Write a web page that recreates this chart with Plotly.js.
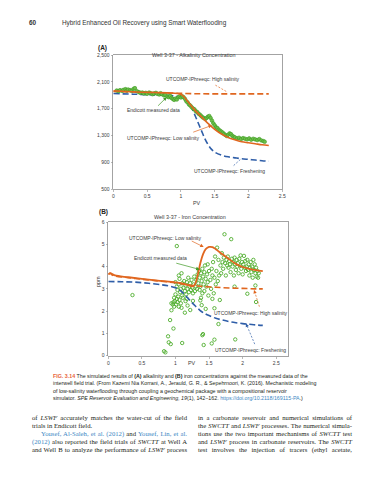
<!DOCTYPE html>
<html><head><meta charset="utf-8">
<script src="https://cdn.plot.ly/plotly-3.0.1.min.js"></script>
<style>
html,body{margin:0;padding:0;background:#fff;width:389px;height:480px;overflow:hidden;}
#chart{position:absolute;left:0;top:0;width:389px;height:480px;}
.t{position:absolute;z-index:2;color:#231f20;white-space:nowrap;}
.hdr{font-family:'Liberation Sans',Arial,sans-serif;font-size:6.4px;color:#333;}
.cap{left:53px;top:373px;font-family:'Liberation Sans',Arial,sans-serif;font-size:5.3px;line-height:7.3px;color:#231f20;}
.col{position:absolute;z-index:2;font-family:'Liberation Serif','Times New Roman',serif;font-size:6.7px;line-height:8px;color:#231f20;}
.col div{text-align:justify;text-align-last:justify;white-space:nowrap;}
.col div.l{text-align-last:left;}
.lnk{color:#3d87c4;}
</style></head><body>
<div id="chart"></div>
<div class="t hdr" style="left:29px;top:19px;font-weight:bold;">60</div>
<div class="t hdr" style="left:62px;top:19px;">Hybrid Enhanced Oil Recovery using Smart Waterflooding</div>
<div class="t cap"><span style="color:#e8643c;font-weight:bold;">FIG. 3.14</span> The simulated results of <b>(A)</b> alkalinity and <b>(B)</b> iron concentrations against the measured data of the<br>interwell field trial. (From Kazemi Nia Korrani, A., Jerauld, G. R., &amp; Sepehrnoori, K. (2016). Mechanistic modeling<br>of low-salinity waterflooding through coupling a geochemical package with a compositional reservoir<br>simulator. <i>SPE Reservoir Evaluation and Engineering, 19</i>(1), 142−162. <span class="lnk">https://doi.org/10.2118/169115-PA</span>.)</div>
<div class="col" style="left:32px;top:414px;width:155px;">
<div>of <i>LSWF</i> accurately matches the water-cut of the field</div>
<div class="l">trials in Endicott field.</div>
<div style="padding-left:9px;"><span class="lnk">Yousef, Al-Saleh, et al. (2012)</span> and <span class="lnk">Yousef, Lin, et al.</span></div>
<div><span class="lnk">(2012)</span> also reported the field trials of <i>SWCTT</i> at Well A</div>
<div>and Well B to analyze the performance of <i>LSWF</i> process</div>
</div>
<div class="col" style="left:198px;top:414px;width:154px;">
<div>in a carbonate reservoir and numerical simulations of</div>
<div>the <i>SWCTT</i> and <i>LSWF</i> processes. The numerical simula-</div>
<div>tions use the two important mechanisms of <i>SWCTT</i> test</div>
<div>and <i>LSWF</i> process in carbonate reservoirs. The <i>SWCTT</i></div>
<div>test involves the injection of tracers (ethyl acetate,</div>
</div>
<script>
// ---------- (A) Alkalinity ----------
const alkHighPV  = [0, 0.3, 0.6, 0.9, 1.2, 1.5, 1.8, 2.1, 2.3];
const alkHigh    = [1955, 1945, 1935, 1925, 1922, 1920, 1920, 1920, 1920];
const alkLowPV   = [0, 0.2, 0.4, 0.6, 0.8, 0.95, 1.02, 1.1, 1.2, 1.3, 1.4, 1.5, 1.6, 1.7, 1.8, 1.9, 2.0, 2.1, 2.2, 2.3];
const alkLow     = [1965, 1955, 1945, 1940, 1935, 1925, 1900, 1810, 1685, 1580, 1480, 1390, 1320, 1270, 1235, 1205, 1190, 1175, 1160, 1150];
const alkFreshPV = [0, 0.3, 0.6, 0.9, 1.0, 1.05, 1.1, 1.15, 1.2, 1.25, 1.3, 1.35, 1.4, 1.45, 1.5, 1.6, 1.7, 1.8, 1.9, 2.0, 2.1, 2.2, 2.3];
const alkFresh   = [1925, 1915, 1905, 1890, 1870, 1850, 1810, 1740, 1620, 1500, 1380, 1260, 1165, 1095, 1050, 1005, 980, 965, 952, 942, 932, 922, 914];
const alkMeasPV  = [0.05,0.08,0.1,0.13,0.15,0.18,0.2,0.22,0.25,0.27,0.3,0.32,0.35,0.38,0.4,0.43,0.45,0.48,0.5,0.53,0.55,0.58,0.6,0.63,0.65,0.68,0.7,0.72,0.75,0.77,0.8,0.82,0.84,0.86,0.88,0.9,0.92,0.94,0.96,0.98,1.0,1.02,1.04,1.06,1.08,1.1,1.12,1.14,1.16,1.18,1.2,1.22,1.24,1.26,1.28,1.3,1.32,1.34,1.36,1.38,1.4,1.42,1.44,1.46,1.48,1.5,1.52,1.54,1.56,1.58,1.6,1.62,1.64,1.66,1.68,1.7,1.72,1.74,1.76,1.78,1.8,1.83,1.86,1.89,1.92,1.95,1.98,2.01,2.04,2.07,2.1,2.13,2.16,2.19,2.22,2.24];
const alkMeas    = [1970,1960,1975,1965,1980,1990,1970,1985,1975,1965,1995,2005,1960,1945,1935,1940,1925,1935,1920,1940,1930,1915,1925,1935,1920,1910,1930,1915,1895,1905,1880,1870,1890,1860,1845,1830,1850,1835,1870,1880,1865,1885,1870,1845,1810,1790,1760,1745,1720,1700,1690,1660,1650,1625,1610,1590,1570,1560,1545,1560,1580,1590,1560,1520,1480,1450,1420,1410,1385,1370,1355,1340,1320,1305,1290,1310,1330,1320,1295,1280,1270,1255,1265,1245,1260,1250,1240,1255,1235,1250,1240,1230,1245,1225,1215,1205];

// ---------- (B) Iron ----------
const feLowPV   = [0, 0.03, 0.06, 0.1, 0.3, 0.5, 0.7, 0.9, 1.0, 1.1, 1.2, 1.25, 1.29, 1.33, 1.37, 1.41, 1.45, 1.5, 1.55, 1.6, 1.7, 1.8, 1.9, 2.0, 2.1, 2.2, 2.3];
const feLow     = [3.65, 3.7, 3.66, 3.6, 3.52, 3.45, 3.38, 3.32, 3.29, 3.24, 3.16, 3.11, 3.2, 3.6, 4.15, 4.55, 4.78, 4.88, 4.87, 4.78, 4.55, 4.33, 4.12, 3.98, 3.9, 3.84, 3.8];
const feHighPV  = [0, 0.03, 0.06, 0.1, 0.3, 0.5, 0.7, 0.9, 1.0, 1.1, 1.2, 1.3, 1.4, 1.6, 1.8, 2.0, 2.2, 2.3];
const feHigh    = [3.65, 3.7, 3.62, 3.58, 3.5, 3.43, 3.37, 3.31, 3.27, 3.22, 3.17, 3.14, 3.11, 3.07, 3.04, 3.02, 3.0, 3.0];
const feFreshPV = [0, 0.2, 0.4, 0.6, 0.8, 0.9, 1.0, 1.06, 1.12, 1.18, 1.24, 1.3, 1.36, 1.42, 1.5, 1.6, 1.7, 1.8, 1.9, 2.0, 2.1, 2.2, 2.3];
const feFresh   = [3.33, 3.32, 3.3, 3.25, 3.18, 3.13, 3.05, 2.95, 2.8, 2.6, 2.4, 2.22, 2.05, 1.92, 1.8, 1.68, 1.6, 1.53, 1.48, 1.44, 1.41, 1.38, 1.36];
const feMeasPV  = [1.0,1.02,1.03,1.05,1.06,1.07,1.08,1.1,1.1,1.12,1.13,1.14,1.15,1.16,1.17,1.18,1.19,1.2,1.21,1.22,1.23,1.24,1.25,1.26,1.27,1.28,1.29,1.3,0.98,0.99,1.0,1.01,1.02,1.03,1.04,1.05,0.97,0.96,1.06,1.08,0.94,0.98,1.09,1.11,1.15,1.17,1.18,1.22,1.14,1.26,1.05,1.09,
 1.31,1.32,1.33,1.34,1.35,1.36,1.36,1.37,1.38,1.38,1.39,1.4,1.4,1.41,1.42,1.43,1.43,1.44,1.45,1.46,1.47,1.48,1.48,1.49,1.5,1.37,1.39,1.45,
 1.52,1.53,1.54,1.55,1.56,1.57,1.58,1.59,1.6,1.61,1.62,1.63,1.64,1.65,1.66,1.67,1.68,1.69,1.7,1.71,1.72,1.73,1.74,1.75,
 1.76,1.77,1.78,1.79,1.8,1.81,1.82,1.83,1.84,1.85,1.86,1.87,1.88,1.89,1.9,1.91,1.92,1.93,1.94,1.95,1.96,1.97,1.98,1.99,2.0,2.01,2.02,2.03,2.04,2.05,2.06,2.07,2.08,2.09,2.1,2.11,2.12,2.13,2.14,2.15,2.16,2.17,2.18,2.19,2.2,2.21,2.22,2.23,2.24,1.88,2.19,2.07,2.2,
 0.36,0.94,0.92,0.97,0.89,0.9,0.93,0.83,0.85,1.1,1.41,1.4,1.42,1.54,1.58,1.64,1.89,1.02,1.58,1.55];
const feMeas    = [3.3,3.1,2.95,3.2,3.45,2.85,3.0,3.25,2.7,3.05,3.35,2.9,3.15,2.75,3.3,3.0,3.5,2.85,3.1,3.25,2.95,3.4,3.05,2.8,3.2,3.55,2.9,3.1,2.6,2.45,2.75,2.3,2.55,2.4,2.65,2.2,2.4,2.3,2.5,2.35,2.35,2.2,2.15,2.6,2.45,2.55,2.25,2.05,1.93,2.46,3.6,3.7,
 3.4,3.0,3.65,3.25,3.8,2.95,3.5,3.1,3.7,2.6,3.35,3.9,2.8,3.55,3.2,3.75,2.9,4.05,3.45,3.1,3.65,3.3,4.1,2.7,3.8,2.48,2.27,2.1,
 3.4,3.0,3.9,3.6,4.2,2.8,3.5,4.45,3.2,3.8,4.85,3.35,4.3,3.6,2.5,4.05,3.7,4.6,4.2,3.9,4.4,5.45,4.15,3.6,
 4.3,4.05,4.45,3.95,4.25,4.1,3.75,5.23,4.35,4.0,4.2,3.6,4.4,4.1,3.85,4.3,4.0,4.15,3.7,4.35,4.05,4.5,3.9,4.2,3.65,4.1,4.48,3.95,4.25,3.8,4.0,4.3,3.85,4.1,3.6,3.95,4.2,3.75,4.0,3.5,4.3,3.85,4.1,3.7,3.95,3.55,3.8,3.5,3.7,3.1,3.15,2.78,2.41,
 2.72,2.04,1.6,1.22,0.87,0.6,0.52,0.2,0.15,0.57,0.97,0.92,0.48,0.55,0.72,1.42,0.73,4.92,2.13,2.55];

const ORANGE = '#e0661f', BLUE = '#2f5ea8', GREEN = '#4fae2e';
const FONT = 'Liberation Sans, Arial, sans-serif';
const TXT = '#3a3a3a';
const W = 389, H = 480;
const px = v => v / W, py = v => 1 - v / H;

const traces = [
  {x: alkHighPV, y: alkHigh, xaxis:'x', yaxis:'y', mode:'lines', line:{color:ORANGE, width:1.6, dash:'6px,3px'}},
  {x: alkFreshPV, y: alkFresh, xaxis:'x', yaxis:'y', mode:'lines', line:{color:BLUE, width:1.6, dash:'6px,3px', shape:'spline'}},
  {x: alkMeasPV, y: alkMeas, xaxis:'x', yaxis:'y', mode:'markers', marker:{color:'#6cc04a', size:3.6, line:{color:'#3e9a24', width:0.6}}},
  {x: alkLowPV, y: alkLow, xaxis:'x', yaxis:'y', mode:'lines', line:{color:ORANGE, width:1.6, shape:'spline'}},
  {x: feMeasPV, y: feMeas, xaxis:'x2', yaxis:'y2', mode:'markers', marker:{symbol:'circle-open', color:GREEN, size:3.4, line:{color:GREEN, width:0.9}}},
  {x: feHighPV, y: feHigh, xaxis:'x2', yaxis:'y2', mode:'lines', line:{color:ORANGE, width:1.6, dash:'6px,3px', shape:'spline'}},
  {x: feFreshPV, y: feFresh, xaxis:'x2', yaxis:'y2', mode:'lines', line:{color:BLUE, width:1.6, dash:'6px,3px', shape:'spline'}},
  {x: feLowPV, y: feLow, xaxis:'x2', yaxis:'y2', mode:'lines', line:{color:ORANGE, width:1.8, shape:'spline'}}
];

const ax = {showline:true, mirror:true, linecolor:'#8c8c8c', linewidth:0.8, ticks:'outside', ticklen:2, tickwidth:0.6,
            tickcolor:'#8c8c8c', showgrid:false, zeroline:false, tickfont:{size:5, color:TXT, family:FONT}, fixedrange:true};

function lab(text, x, y, xr, yr, extra) {
  return Object.assign({text, x, y, xref:xr, yref:yr, showarrow:false, font:{size:5, color:TXT, family:FONT}}, extra || {});
}
// solid arrow from (x0,y0) to head (x1,y1)
function arr(x0, y0, x1, y1, xr, yr, color) {
  return {text:'', x:x1, y:y1, ax:x0, ay:y0, xref:xr, yref:yr, axref:xr, ayref:yr, showarrow:true,
          arrowhead:2, arrowsize:1, arrowwidth:0.7, arrowcolor:color};
}
// dashed arrow: dashed shaft as a shape + short arrow for the head
const shapes = [];
function darr(x0, y0, x1, y1, xr, yr, color) {
  shapes.push({type:'line', x0, y0, x1, y1, xref:xr, yref:yr, line:{color, width:0.7, dash:'2px,1.5px'}});
  const f = 0.82;
  return arr(x0 + (x1 - x0) * f, y0 + (y1 - y0) * f, x1, y1, xr, yr, color);
}

const annotations = [
  lab('<b>(A)</b>', px(96), py(42.5), 'paper', 'paper', {font:{size:6.5, color:'#222', family:FONT}}),
  lab('Well 3-37 - Alkalinity Concentration', px(194), py(49.5), 'paper', 'paper', {font:{size:5.4, color:TXT, family:FONT}}),
  lab('PV', px(197), py(202.5), 'paper', 'paper', {font:{size:5.4, color:TXT, family:FONT}}),
  lab('UTCOMP-IPhreeqc: High salinity', 1.33, 2140, 'x', 'y'),
  darr(1.51, 2050, 1.69, 1945, 'x', 'y', ORANGE),
  lab('Endicott measured data', 0.59, 1675, 'x', 'y'),
  arr(0.64, 1720, 0.79, 1870, 'x', 'y', '#3e9a24'),
  lab('UTCOMP-IPhreeqc: Low salinity', 0.74, 1255, 'x', 'y'),
  arr(1.16, 1340, 1.46, 1450, 'x', 'y', ORANGE),
  lab('UTCOMP-IPhreeqc: Freshening', 1.72, 775, 'x', 'y'),
  darr(1.78, 850, 1.89, 950, 'x', 'y', BLUE),

  lab('<b>(B)</b>', px(97), py(212), 'paper', 'paper', {font:{size:6.5, color:'#222', family:FONT}}),
  lab('Well 3-37 - Iron Concentration', px(190), py(216.5), 'paper', 'paper', {font:{size:5.4, color:TXT, family:FONT}}),
  lab('PV', px(192), py(368), 'paper', 'paper', {font:{size:5.4, color:TXT, family:FONT}}),
  lab('ppm', px(93), py(282), 'paper', 'paper', {textangle:-90, font:{size:5.4, color:TXT, family:FONT}}),
  lab('UTCOMP-IPhreeqc: Low salinity', 0.85, 5.3, 'x2', 'y2'),
  arr(1.22, 5.18, 1.42, 4.88, 'x2', 'y2', ORANGE),
  lab('Endicott measured data', 0.77, 4.4, 'x2', 'y2'),
  arr(0.99, 4.17, 1.36, 3.87, 'x2', 'y2', '#3e9a24'),
  lab('UTCOMP-IPhreeqc: High salinity', 2.12, 1.93, 'x2', 'y2'),
  darr(2.25, 2.2, 2.17, 2.95, 'x2', 'y2', ORANGE),
  lab('UTCOMP-IPhreeqc: Freshening', 2.12, 0.26, 'x2', 'y2'),
  darr(2.18, 0.52, 2.05, 1.45, 'x2', 'y2', BLUE)
];

const layout = {
  width: W, height: H, margin:{l:0, r:0, t:0, b:0}, showlegend:false,
  paper_bgcolor:'rgba(0,0,0,0)', plot_bgcolor:'#ffffff',
  font:{family:FONT, size:5, color:TXT},
  xaxis: Object.assign({}, ax, {domain:[px(113.3), px(282.3)], range:[0, 2.5], tick0:0, dtick:0.5, anchor:'y'}),
  yaxis: Object.assign({}, ax, {domain:[py(189), py(55)], range:[500, 2500], tick0:500, dtick:400, tickformat:',d', anchor:'x'}),
  xaxis2: Object.assign({}, ax, {domain:[px(108.3), px(288.3)], range:[0, 2.68], tick0:0, dtick:0.5, anchor:'y2'}),
  yaxis2: Object.assign({}, ax, {domain:[py(355.7), py(222)], range:[0, 6], tick0:0, dtick:1, anchor:'x2'}),
  annotations, shapes
};

Plotly.newPlot('chart', traces, layout, {displayModeBar:false, staticPlot:true});
</script>
</body></html>
